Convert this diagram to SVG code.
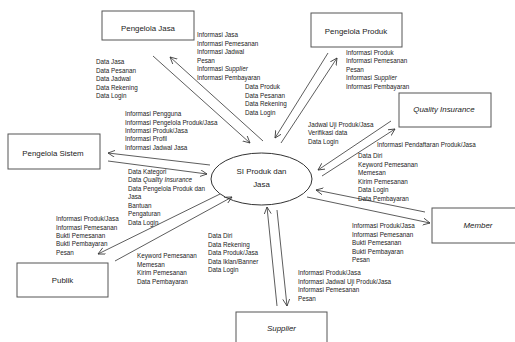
<svg xmlns="http://www.w3.org/2000/svg" width="515" height="342" viewBox="0 0 515 342">
<style>
.box{fill:#fff;stroke:#555;stroke-width:1}
.lbl{font-family:"Liberation Sans",Arial,sans-serif;font-size:7.9px;fill:#222;text-anchor:middle}
.t{font-family:"Liberation Sans",Arial,sans-serif;font-size:6.3px;fill:#222}
.i{font-style:italic}
.c line{stroke:#333;stroke-width:0.8;marker-end:url(#ah)}
</style>
<defs>
<marker id="ah" markerUnits="userSpaceOnUse" markerWidth="9" markerHeight="9" refX="7" refY="3.5" orient="auto">
<path d="M0,0 L7,3.5 L0,7" fill="none" stroke="#333" stroke-width="0.8"/>
</marker>
</defs>
<rect width="515" height="342" fill="#fff"/>
<g id="pengelola-jasa"><rect class="box" x="102" y="11" width="92" height="29"/><text class="lbl" x="148" y="31">Pengelola Jasa</text></g>
<g id="pengelola-produk"><rect class="box" x="311" y="13" width="91" height="34"/><text class="lbl" x="356" y="33.5">Pengelola Produk</text></g>
<g id="quality-insurance"><rect class="box" x="399" y="93" width="92" height="34"/><text class="lbl i" x="444" y="112">Quality Insurance</text></g>
<g id="pengelola-sistem"><rect class="box" x="8" y="134" width="92" height="35"/><text class="lbl" x="53" y="156">Pengelola Sistem</text></g>
<g id="member"><rect class="box" x="432" y="208" width="92" height="35"/><text class="lbl i" x="478" y="228">Member</text></g>
<g id="publik"><rect class="box" x="17" y="263" width="91" height="34"/><text class="lbl" x="62.5" y="283">Publik</text></g>
<g id="supplier"><rect class="box" x="236" y="312" width="91" height="40"/><text class="lbl i" x="281.5" y="331">Supplier</text></g>
<g id="si-produk-jasa"><ellipse cx="261.5" cy="179" rx="50.5" ry="26" fill="#fff" stroke="#333" stroke-width="1"/><text class="lbl" x="261.5" y="174">SI Produk dan</text><text class="lbl" x="261.5" y="186.5">Jasa</text></g>
<g id="connectors" class="c">
<line x1="153" y1="56" x2="250" y2="143"/>
<line x1="263" y1="141" x2="170" y2="57"/>
<line x1="328" y1="53" x2="275" y2="138"/>
<line x1="281" y1="143" x2="337" y2="58"/>
<line x1="391" y1="121" x2="318" y2="170"/>
<line x1="322" y1="176" x2="395" y2="129"/>
<line x1="425" y1="212" x2="316" y2="190"/>
<line x1="307" y1="197" x2="430" y2="223"/>
<line x1="277" y1="306" x2="267" y2="207"/>
<line x1="277" y1="210" x2="287" y2="306"/>
<line x1="220" y1="194" x2="98" y2="254"/>
<line x1="115" y1="261" x2="232" y2="197"/>
<line x1="210" y1="165" x2="108" y2="153"/>
<line x1="108" y1="161" x2="207" y2="174"/>
</g>
<g id="labels">
<text class="t" y="64.2"><tspan x="96">Data Jasa</tspan><tspan x="96" dy="8.5">Data Pesanan</tspan><tspan x="96" dy="8.5">Data Jadwal</tspan><tspan x="96" dy="8.5">Data Rekening</tspan><tspan x="96" dy="8.5">Data Login</tspan></text>
<text class="t" y="37.3"><tspan x="197">Informasi Jasa</tspan><tspan x="197" dy="8.5">Informasi Pemesanan</tspan><tspan x="197" dy="8.5">Informasi Jadwal</tspan><tspan x="197" dy="8.5">Pesan</tspan><tspan x="197" dy="8.5">Informasi <tspan class="i">Supplier</tspan></tspan><tspan x="197" dy="8.5">Informasi Pembayaran</tspan></text>
<text class="t" y="89"><tspan x="245">Data Produk</tspan><tspan x="245" dy="8.5">Data Pesanan</tspan><tspan x="245" dy="8.5">Data Rekening</tspan><tspan x="245" dy="8.5">Data Login</tspan></text>
<text class="t" y="54.5"><tspan x="346">Informasi Produk</tspan><tspan x="346" dy="8.5">Informasi Pemesanan</tspan><tspan x="346" dy="8.5">Pesan</tspan><tspan x="346" dy="8.5">Informasi <tspan class="i">Supplier</tspan></tspan><tspan x="346" dy="8.5">Informasi Pembayaran</tspan></text>
<text class="t" y="126.5"><tspan x="308">Jadwal Uji Produk/Jasa</tspan><tspan x="308" dy="8.5">Verifikasi data</tspan><tspan x="308" dy="8.5">Data Login</tspan></text>
<text class="t" x="377" y="147.2">Informasi Pendaftaran Produk/Jasa</text>
<text class="t" y="158"><tspan x="358">Data Diri</tspan><tspan x="358" dy="8.5">Keyword Pemesanan</tspan><tspan x="358" dy="8.5">Memesan</tspan><tspan x="358" dy="8.5">Kirim Pemesanan</tspan><tspan x="358" dy="8.5">Data Login</tspan><tspan x="358" dy="8.5">Data Pembayaran</tspan></text>
<text class="t" y="228.2"><tspan x="352">Informasi Produk/Jasa</tspan><tspan x="352" dy="8.5">Informasi Pemesanan</tspan><tspan x="352" dy="8.5">Bukti Pemesanan</tspan><tspan x="352" dy="8.5">Bukti Pembayaran</tspan><tspan x="352" dy="8.5">Pesan</tspan></text>
<text class="t" y="275"><tspan x="298">Informasi Produk/Jasa</tspan><tspan x="298" dy="8.5">Informasi Jadwal Uji Produk/Jasa</tspan><tspan x="298" dy="8.5">Informasi Pemesanan</tspan><tspan x="298" dy="8.5">Pesan</tspan></text>
<text class="t" y="238.2"><tspan x="208">Data Diri</tspan><tspan x="208" dy="8.5">Data Rekening</tspan><tspan x="208" dy="8.5">Data Produk/Jasa</tspan><tspan x="208" dy="8.5">Data Iklan/Banner</tspan><tspan x="208" dy="8.5">Data Login</tspan></text>
<text class="t" y="258.2"><tspan x="137">Keyword Pemesanan</tspan><tspan x="137" dy="8.5">Memesan</tspan><tspan x="137" dy="8.5">Kirim Pemesanan</tspan><tspan x="137" dy="8.5">Data Pembayaran</tspan></text>
<text class="t" y="221.2"><tspan x="56">Informasi Produk/Jasa</tspan><tspan x="56" dy="8.4">Informasi Pemesanan</tspan><tspan x="56" dy="8.4">Bukti Pemesanan</tspan><tspan x="56" dy="8.4">Bukti Pembayaran</tspan><tspan x="56" dy="8.4">Pesan</tspan></text>
<text class="t" y="174"><tspan x="128">Data Kategori</tspan><tspan x="128" dy="8.45">Data <tspan class="i">Quality Insurance</tspan></tspan><tspan x="128" dy="8.45">Data Pengelola Produk dan</tspan><tspan x="128" dy="8.45">Jasa</tspan><tspan x="128" dy="8.45">Bantuan</tspan><tspan x="128" dy="8.45">Pengaturan</tspan><tspan x="128" dy="8.45">Data Login</tspan></text>
<text class="t" y="116.2"><tspan x="125">Informasi Pengguna</tspan><tspan x="125" dy="8.35">Informasi Pengelola Produk/Jasa</tspan><tspan x="125" dy="8.35">Informasi Produk/Jasa</tspan><tspan x="125" dy="8.35">Informasi Profil</tspan><tspan x="125" dy="8.35">Informasi Jadwal Jasa</tspan></text>
</g>
</svg>
